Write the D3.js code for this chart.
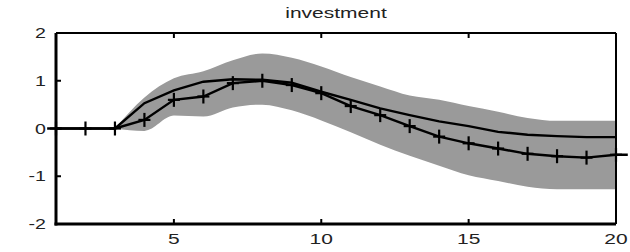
<!DOCTYPE html>
<html>
<head>
<meta charset="utf-8">
<script src="https://cdn.jsdelivr.net/npm/d3@7"></script>
<style>
body { margin: 0; background: #fff; }
text { font-family: "Liberation Sans", Arial, sans-serif; fill: #222; }
</style>
</head>
<body>
<svg width="630" height="252"></svg>
<script>
// horizons and series
var steps = [1,2,3,4,5,6,7,8,9,10,11,12,13,14,15,16,17,18,19,20];
var median = [0,0,0,0.53,0.8,0.98,1.03,1.02,0.96,0.77,0.6,0.42,0.28,0.15,0.05,-0.07,-0.13,-0.16,-0.18,-0.18];
var marked = [0,0,0,0.18,0.6,0.67,0.95,1.0,0.91,0.74,0.47,0.28,0.05,-0.17,-0.31,-0.42,-0.53,-0.58,-0.61,-0.55];
var bandX = [3,4,5,6,7,8,9,10,11,12,13,14,15,16,17,18,19,20];
var upper = [0,0.65,1.05,1.2,1.43,1.57,1.48,1.3,1.08,0.88,0.69,0.6,0.47,0.35,0.22,0.16,0.16,0.16];
var lower = [0,-0.05,0.27,0.25,0.44,0.5,0.38,0.17,-0.08,-0.34,-0.57,-0.78,-0.98,-1.1,-1.22,-1.27,-1.27,-1.27];
// the marked line runs a bit past both frame edges in the reference
var markedEndsX = [0.7, 20.4];
var markedEnds = [0, -0.55];
var xTicks = [5,10,15,20];
var yTicks = [-2,-1,0,1,2];
var title = 'investment';

var svg = d3.select('svg');
var margin = {left:56,right:14,top:33,bottom:28};
var width = +svg.attr('width'), height = +svg.attr('height');

var x = d3.scaleLinear().domain([1,20]).range([margin.left, width - margin.right]);
var y = d3.scaleLinear().domain([-2,2]).range([height - margin.bottom, margin.top]);
var stretch = 1.4;

function label(g, px, py, txt, size, anchor) {
	g.append('text')
		.attr('transform', `translate(${px},${py}) scale(${stretch},1)`)
		.attr('text-anchor', anchor)
		.style('font-size', size + 'px')
		.text(txt);
}

// confidence band
var band = bandX.map((d,i) => ({x:d, lo:lower[i], hi:upper[i]}));
svg.append('path')
	.datum(band)
	.attr('fill', '#9a9a9a')
	.attr('d', d3.area().curve(d3.curveMonotoneX).x(d => x(d.x)).y0(d => y(d.lo)).y1(d => y(d.hi)));

// solid line
svg.append('path')
	.datum(steps.map((d,i) => [d, median[i]]))
	.attr('fill', 'none')
	.attr('stroke', '#000')
	.attr('stroke-width', 2.4)
	.attr('d', d3.line().x(d => x(d[0])).y(d => y(d[1])));

// marked line
var mk = steps.map((d,i) => [d, marked[i]]);
var mkFull = [[markedEndsX[0], markedEnds[0]]].concat(mk, [[markedEndsX[1], markedEnds[1]]]);
svg.append('path')
	.datum(mkFull)
	.attr('fill', 'none')
	.attr('stroke', '#000')
	.attr('stroke-width', 2.4)
	.attr('d', d3.line().x(d => x(d[0])).y(d => y(d[1])));

var plus = svg.append('g').attr('stroke', '#000').attr('stroke-width', 2.2);
mk.forEach(function(d) {
	var cx = x(d[0]), cy = y(d[1]);
	plus.append('line').attr('x1', cx).attr('x2', cx).attr('y1', cy - 7).attr('y2', cy + 7);
	plus.append('line').attr('x1', cx - 6).attr('x2', cx + 6).attr('y1', cy).attr('y2', cy);
});

// inward ticks
var ticks = svg.append('g').attr('stroke', '#000').attr('stroke-width', 2);
xTicks.slice(0, 3).forEach(function(t) {
	ticks.append('line').attr('x1', x(t)).attr('x2', x(t)).attr('y1', y(-2)).attr('y2', y(-2) - 5);
	ticks.append('line').attr('x1', x(t)).attr('x2', x(t)).attr('y1', y(2)).attr('y2', y(2) + 5);
});
yTicks.slice(1, 4).forEach(function(t) {
	ticks.append('line').attr('x1', x(1)).attr('x2', x(1) + 5).attr('y1', y(t)).attr('y2', y(t));
});

// frame
var fr = svg.append('g').attr('stroke', '#000').attr('fill', 'none');
fr.append('line').attr('x1', x(1)).attr('x2', x(20)).attr('y1', y(2)).attr('y2', y(2)).attr('stroke-width', 2);
fr.append('line').attr('x1', x(20)).attr('x2', x(20)).attr('y1', y(2)).attr('y2', y(-2)).attr('stroke-width', 2);
fr.append('line').attr('x1', x(1)).attr('x2', x(1)).attr('y1', y(2)).attr('y2', y(-2) + 1.5).attr('stroke-width', 3);
fr.append('line').attr('x1', x(1) - 1.5).attr('x2', x(20)).attr('y1', y(-2)).attr('y2', y(-2)).attr('stroke-width', 3);

// tick labels
var lab = svg.append('g');
xTicks.forEach(t => label(lab, x(t), height - 8, String(t), 15, 'middle'));
yTicks.forEach(t => label(lab, 46, y(t) + 5, String(t), 14, 'end'));

// title
label(svg, (x(1) + x(20)) / 2, 18, title, 15, 'middle');
</script>
</body>
</html>
